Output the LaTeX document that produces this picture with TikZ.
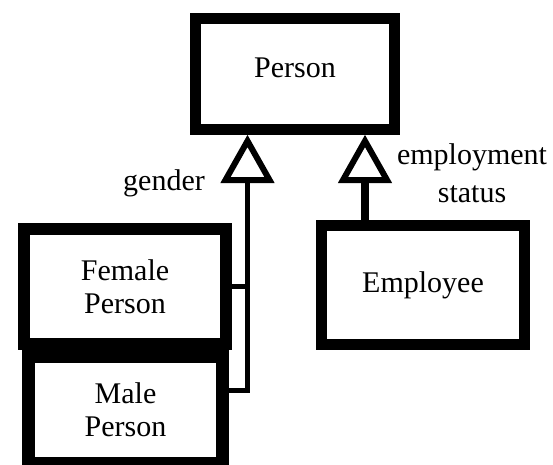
\documentclass[tikz,border=0pt]{standalone}
\usepackage{fontspec}
\setmainfont{Liberation Serif}
\usepackage{tikz}

\tikzset{
    cls/.style={draw,rectangle,align=center,inner sep=0pt,font=\rmfamily\fontsize{30}{33}\selectfont},
    lbl/.style={inner sep=0pt,align=center,font=\rmfamily\fontsize{30}{38}\selectfont},
    gen/.style={line width=5pt},
    tri/.style={line width=6pt,fill=white,line join=miter}
}

\begin{document}
\begin{tikzpicture}[x=1pt,y=-1pt]
    \useasboundingbox(0,0)rectangle(553,464);

    \node[cls,line width=11pt,minimum width=199pt,minimum height=111pt,text depth=12pt](person)at(295,74){Person};
    \node[cls,line width=12pt,minimum width=202pt,minimum height=115pt](female)at(125,286.5){Female\\Person};
    \node[cls,line width=13pt,minimum width=194pt,minimum height=107pt](male)at(125.5,410){Male\\Person};
    \node[cls,line width=11pt,minimum width=203pt,minimum height=119pt](employee)at(423,285){Employee};

    % gender
    \coordinate(gtip)at(247.5,141);
    \coordinate(gbase)at(247.5,180);
    \coordinate(gjoin)at(247.5,390);
    \draw[gen](gbase)--(gjoin)--(gjoin-|male.east);
    \draw[gen](female.east)--(female.east-|gjoin);
    \draw[tri](gtip)--++(-22,39)--++(44,0)--cycle;
    \node[lbl,anchor=base east](gender)at(205,190){gender};

    % employment status
    \coordinate(etip)at(365,141);
    \coordinate(ebase)at(365,180);
    \draw[line width=8pt](ebase)--(ebase|-employee.north);
    \draw[tri](etip)--++(-22,39)--++(44,0)--cycle;
    \node[lbl,anchor=north](status)at(472,143){employment\\status};
\end{tikzpicture}
\end{document}
